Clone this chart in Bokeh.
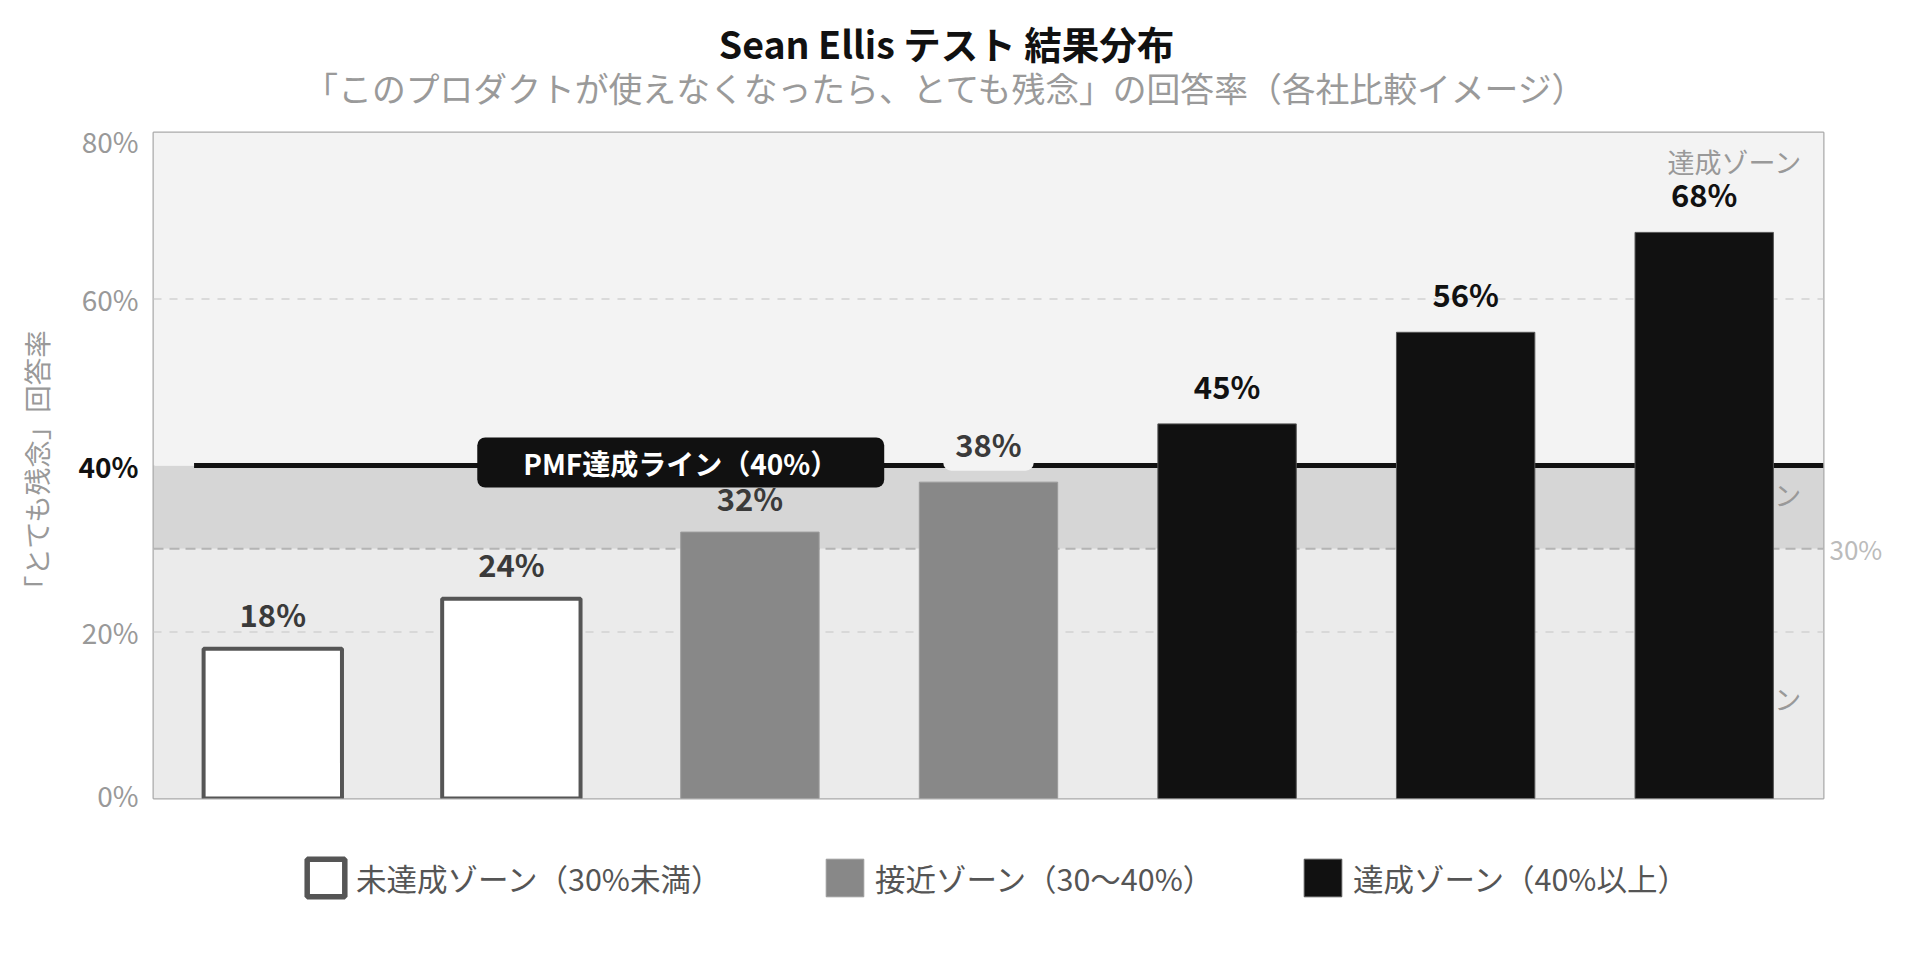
from bokeh.plotting import figure
from bokeh.layouts import column
from bokeh.models import (ColumnDataSource, FactorRange, Range1d, Label, Legend, LegendItem,
                          LinearAxis, FixedTicker, PrintfTickFormatter, CDSView, GroupFilter)
from bokeh.core.properties import value
from bokeh.embed import file_html
from bokeh.resources import INLINE

# ---- data ----
companies = ["A社", "B社", "C社", "D社", "E社", "F社", "G社"]
scores = [18, 24, 32, 38, 45, 56, 68]
pmf_threshold = 40
near_threshold = 30
zone_names = ["未達成ゾーン", "接近ゾーン", "達成ゾーン"]
zone_legend = ["未達成ゾーン（30%未満）", "接近ゾーン（30〜40%）", "達成ゾーン（40%以上）"]
zone_bottoms = [0, 30, 40]
zone_tops = [30, 40, 80]
zone_label_y = [12, 36.5, 76.5]
y_ticks = [0, 20, 60, 80]
grid_ticks = [20, 60]
title_text = "Sean Ellis テスト 結果分布"
subtitle_text = "「このプロダクトが使えなくなったら、とても残念」の回答率（各社比較イメージ）"
pmf_label_text = "PMF達成ライン（40%）"
y_label_text = "「とても残念」回答率"

FONT = "Noto Sans CJK JP"
W = 1915
LEFT = 153
RIGHT = 1823


def zone_of(s):
    if s < near_threshold:
        return 0
    if s < pmf_threshold:
        return 1
    return 2


zones = [zone_of(s) for s in scores]
near_line = [(s < pmf_threshold and s + 4 > pmf_threshold - 1) for s in scores]
src = ColumnDataSource(dict(
    company=companies,
    score=scores,
    zone=[zone_names[z] for z in zones],
    label=[f"{s}%" for s in scores],
    label_color=["#111111" if z == 2 else "#3a3a3a" for z in zones],
    bg_alpha=[1.0 if nl else 0.0 for nl in near_line],
    y_off=[-39 if nl else (-38.5 if z == 2 else -35) for z, nl in zip(zones, near_line)],
))

styles = [
    dict(fill_color="white", line_color="#555555", line_width=4),
    dict(fill_color="#888888", line_color="#9a9a9a", line_width=1),
    dict(fill_color="#111111", line_color="#555555", line_width=1),
]

# ---------------- title strip ----------------
top = figure(width=W, height=120, x_range=Range1d(LEFT, RIGHT), y_range=Range1d(120, 0),
             output_backend="svg", toolbar_location=None, x_axis_location=None,
             y_axis_location=None, min_border_left=LEFT, min_border_right=W - RIGHT,
             min_border_top=0, min_border_bottom=0)
top.outline_line_color = None
top.grid.visible = False
top.text(x=[946], y=[42], text=[title_text], text_align="center", text_baseline="middle",
         text_color="#111111", text_font=value(FONT), text_font_style="bold",
         text_font_size=value("37.5px"))
top.text(x=[946], y=[87], text=[subtitle_text], text_align="center", text_baseline="middle",
         text_color="#9a9a9a", text_font=value(FONT), text_font_size=value("33.8px"))

# ---------------- main chart ----------------
n = len(companies)
p = figure(width=W, height=694,
           x_range=FactorRange(*companies), y_range=Range1d(0, 80),
           output_backend="svg", toolbar_location=None, x_axis_location=None,
           min_border_left=LEFT, min_border_right=W - RIGHT, min_border_top=12,
           min_border_bottom=16)
p.xgrid.visible = False
p.ygrid.visible = False
p.outline_line_color = "#aaaaaa"
p.outline_line_width = 2
p.background_fill_color = "white"
p.border_fill_color = "white"

p.quad(left=0, right=n, bottom=zone_bottoms, top=zone_tops,
       fill_color=["#ebebeb", "#d6d6d6", "#f3f3f3"], line_color=None)

p.segment(x0=0, x1=n, y0=grid_ticks, y1=grid_ticks, line_color="#d2d2d2",
          line_width=1.5, line_dash="8 8")
p.segment(x0=0, x1=n, y0=near_threshold, y1=near_threshold, line_color="#b4b4b4",
          line_width=2, line_dash="10 6")

p.text(x=n, y=zone_label_y, text=zone_names, x_offset=-21, text_align="right",
       text_baseline="middle", text_color="#999999", text_font=value(FONT),
       text_font_size=value("27px"))

p.segment(x0=0.17, x1=n, y0=pmf_threshold, y1=pmf_threshold, line_color="#111111",
          line_width=5)

bars = []
for zi, name in enumerate(zone_names):
    view = CDSView(filter=GroupFilter(column_name="zone", group=name))
    bars.append(p.vbar(x="company", top="score", bottom=0, width=0.58, source=src,
                       view=view, **styles[zi]))

p.text(x="company", y="score", text="label", source=src, y_offset="y_off",
       text_align="center", text_baseline="middle", text_color="label_color",
       text_font=value(FONT), text_font_style="bold", text_font_size=value("31px"),
       background_fill_color="#f3f3f3", background_fill_alpha="bg_alpha",
       padding=(12, 5), border_radius=8)

p.add_layout(Label(x=2.21, y=pmf_threshold, y_offset=3, text=pmf_label_text,
                   text_align="center", text_baseline="middle", text_color="white",
                   text_font=FONT, text_font_style="bold", text_font_size="28px",
                   background_fill_color="#111111", background_fill_alpha=1.0,
                   border_radius=8, padding=(46, 5)))

# inner left axis: regular ticks
ya = p.yaxis[0]
ya.ticker = FixedTicker(ticks=y_ticks)
ya.formatter = PrintfTickFormatter(format="%d%%")
ya.axis_line_color = None
ya.major_tick_line_color = None
ya.minor_tick_line_color = None
ya.major_tick_out = 0
ya.minor_tick_out = 0
ya.major_label_standoff = 15
ya.major_label_text_font = FONT
ya.major_label_text_font_size = "28px"
ya.major_label_text_color = "#999999"

# outer left axis: bold 40% (pulled back over the inner labels) + axis title
oa = LinearAxis(ticker=FixedTicker(ticks=[pmf_threshold]),
                formatter=PrintfTickFormatter(format="%d%%"))
oa.axis_line_color = None
oa.major_tick_line_color = None
oa.minor_tick_line_color = None
oa.major_tick_out = 0
oa.minor_tick_out = 0
oa.major_label_standoff = -60
oa.major_label_text_font = FONT
oa.major_label_text_font_style = "bold"
oa.major_label_text_font_size = "28px"
oa.major_label_text_color = "#111111"
oa.axis_label = y_label_text
oa.axis_label_text_font = FONT
oa.axis_label_text_font_style = "normal"
oa.axis_label_text_font_size = "27.5px"
oa.axis_label_text_color = "#999999"
oa.axis_label_standoff = 19
p.add_layout(oa, "left")

ra = LinearAxis(ticker=FixedTicker(ticks=[near_threshold]),
                formatter=PrintfTickFormatter(format="%d%%"))
ra.axis_line_color = None
ra.major_tick_line_color = None
ra.minor_tick_line_color = None
ra.major_tick_out = 0
ra.minor_tick_out = 0
ra.major_label_standoff = 6
ra.major_label_text_font = FONT
ra.major_label_text_font_size = "26px"
ra.major_label_text_color = "#bbbbbb"
p.add_layout(ra, "right")

# ---------------- legend strip ----------------
bot = figure(width=W, height=141, x_range=Range1d(0, 1), y_range=Range1d(0, 1),
             output_backend="svg", toolbar_location=None, x_axis_location=None,
             y_axis_location=None, min_border_left=LEFT, min_border_right=W - RIGHT,
             min_border_top=0, min_border_bottom=0)
bot.outline_line_color = None
bot.grid.visible = False
swatch_styles = [dict(styles[0], line_width=5.5), styles[1], styles[2]]
nan = float("nan")
# legend-only renderers (no visible bar: NaN data)
swatches = [bot.vbar(x=[nan], top=[nan], bottom=[nan], width=0.1, **swatch_styles[i])
            for i in range(3)]
legend_x = [149, 668, 1146]
for i in range(3):
    lg = Legend(items=[LegendItem(label=zone_legend[i], renderers=[swatches[i]])],
                orientation="horizontal", location=(legend_x[i], 54),
                glyph_width=47, glyph_height=47, label_standoff=7, label_text_font=FONT,
                label_text_font_size="30.5px", label_text_color="#555555",
                border_line_color=None, background_fill_alpha=0, margin=0, padding=10)
    bot.add_layout(lg)

layout = column(top, p, bot, spacing=0)
open("out.html", "w").write(file_html(layout, INLINE))
